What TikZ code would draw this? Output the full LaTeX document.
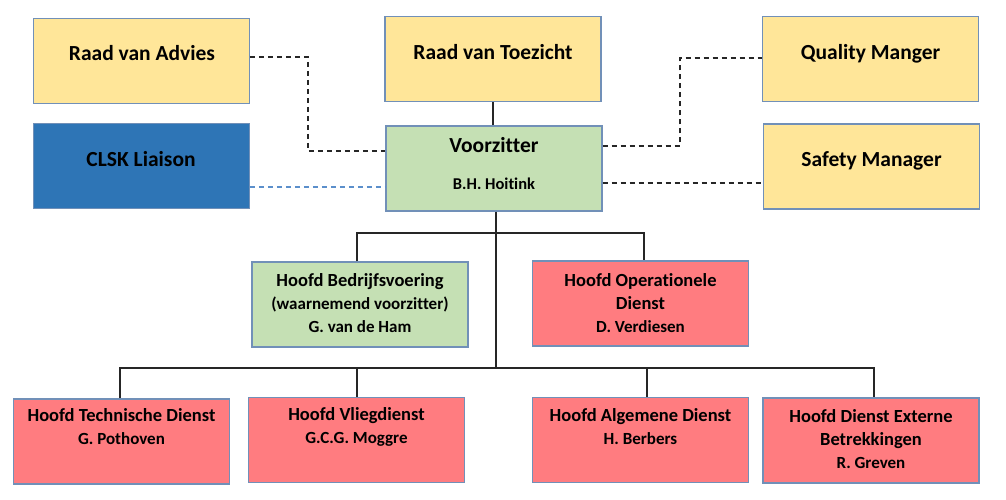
\documentclass[tikz,border=0pt]{standalone}
\usepackage{fontspec}
\setmainfont{Carlito}[Ligatures=NoCommon]
\definecolor{yel}{HTML}{FFE699}
\definecolor{grn}{HTML}{C5E0B4}
\definecolor{rd}{HTML}{FF7C80}
\definecolor{blu}{HTML}{2E75B6}
\definecolor{edge}{HTML}{7190B8}
\definecolor{ln}{HTML}{262626}
\definecolor{bdash}{HTML}{5B8FCB}
\newcommand{\nm}{\fontsize{17}{23}\selectfont}
\tikzset{
  box/.style={draw=edge, line width=1.3pt, minimum width=216pt, minimum height=85pt, inner sep=0pt},
  bigtxt/.style={font=\bfseries\fontsize{21.5}{26}\selectfont, anchor=base, inner sep=0pt},
  mtxt/.style={font=\bfseries\fontsize{18.5}{23}\selectfont, align=center, inner sep=0pt},
  nametxt/.style={font=\bfseries\fontsize{16.5}{20}\selectfont, anchor=base, inner sep=0pt},
  conn/.style={draw=ln, line width=1.1pt},
  dconn/.style={draw=ln, line width=1.1pt, dash pattern=on 5pt off 4pt},
}
\begin{document}
\begin{tikzpicture}[x=1pt,y=-1pt]
\useasboundingbox (0,0) rectangle (1006,500);
% top row
\node[box, fill=yel] (adv) at (141.3,60.8) {};
\node[bigtxt] (advt) at (142,60.7) {Raad van Advies};
\node[box, fill=yel] (rvt) at (493,59) {};
\node[bigtxt] (rvtt) at (493,59.7) {Raad van Toezicht};
\node[box, fill=yel] (qm) at (870.5,59) {};
\node[bigtxt] (qmt) at (870.5,59.7) {Quality Manger};
% second row
\node[box, fill=blu] (clsk) at (141.3,166.3) {};
\node[bigtxt] (clskt) at (141,166.7) {CLSK Liaison};
\node[box, fill=grn] (vz) at (494,168.5) {};
\node[bigtxt] (vzt) at (494,152.7) {Voorzitter};
\node[nametxt] (vzn) at (494,189.3) {B.H. Hoitink};
\node[box, fill=yel] (sm) at (871.5,166.5) {};
\node[bigtxt] (smt) at (871.5,166.5) {Safety Manager};
% third row
\node[box, fill=grn] (hb) at (360,304.5) {};
\node[mtxt] (hbt) at (360,303) {Hoofd Bedrijfsvoering\\\nm(waarnemend voorzitter)\\\nm G. van de Ham};
\node[box, fill=rd] (ho) at (640.5,303.5) {};
\node[mtxt] (hot) at (640.5,303) {Hoofd Operationele\\Dienst\\\nm D. Verdiesen};
% bottom row
\node[box, fill=rd] (ht) at (121.5,441.5) {};
\node[mtxt] (htt) at (121.5,427) {Hoofd Technische Dienst\\\nm G. Pothoven};
\node[box, fill=rd] (hv) at (356.5,440) {};
\node[mtxt] (hvt) at (356.5,427) {Hoofd Vliegdienst\\\nm G.C.G. Moggre};
\node[box, fill=rd] (ha) at (640.5,440) {};
\node[mtxt] (hat) at (640.5,427) {Hoofd Algemene Dienst\\\nm H. Berbers};
\node[box, fill=rd] (he) at (871,440.5) {};
\node[mtxt] (het) at (871,439) {Hoofd Dienst Externe\\Betrekkingen\\\nm R. Greven};
% coordinates
\coordinate (b1) at (496,233);
\coordinate (b2) at (496,368);
% solid connectors
\draw[conn] (rvt.south) -- (vz.north -| rvt.south);
\draw[conn] (vz.south -| b1) -- (b2);
\draw[conn] (hb.north -| 357,0) |- (b1) -| (ho.north -| 644,0);
\draw[conn] (ht.north -| 120,0) |- (b2) -| (he.north -| 874,0);
\draw[conn] (hv.north -| 357,0) -- (357,368);
\draw[conn] (ha.north -| 647,0) -- (647,368);
% dashed connectors
\draw[dconn] (adv.east |- 0,57) -| (308,151) -- (vz.west |- 0,151);
\draw[dconn, draw=bdash] (clsk.east |- 0,187) -- (vz.west |- 0,187);
\draw[dconn] (vz.east |- 0,146) -| (680,58) -- (qm.west |- 0,58);
\draw[dconn] (vz.east |- 0,183) -- (sm.west |- 0,183);
\end{tikzpicture}
\end{document}
